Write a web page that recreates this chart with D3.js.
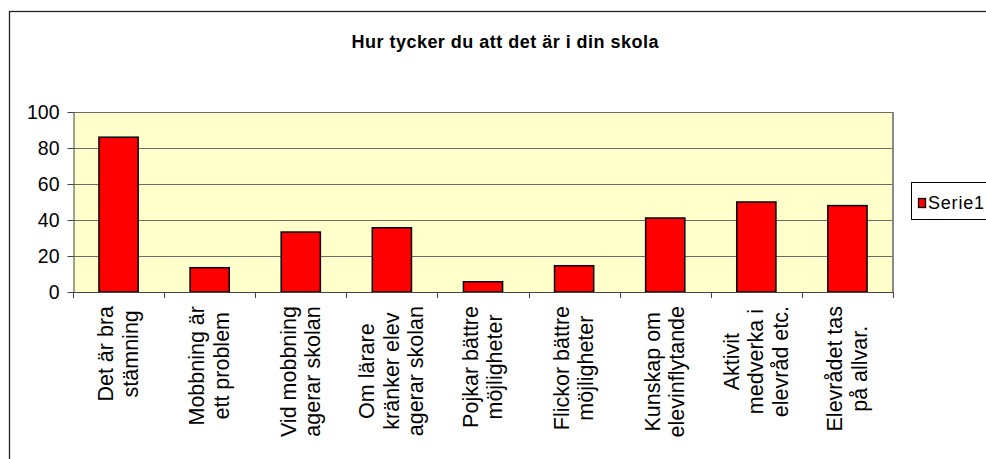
<!DOCTYPE html>
<html>
<head>
<meta charset="utf-8">
<script src="https://cdn.jsdelivr.net/npm/d3@7"></script>
<style>
  body { margin: 0; background: #fff; }
  svg { display: block; font-family: Arial, "Liberation Sans", sans-serif; }
</style>
</head>
<body>
<div id="chart"></div>
<script>
// Hur tycker du att det är i din skola
const categories = [
    ["Det är bra", "stämning"],
    ["Mobbning är", "ett problem"],
    ["Vid mobbning", "agerar skolan"],
    ["Om lärare", "kränker elev", "agerar skolan"],
    ["Pojkar bättre", "möjligheter"],
    ["Flickor bättre", "möjligheter"],
    ["Kunskap om", "elevinflytande"],
    ["Aktivit", "medverka i", "elevråd etc."],
    ["Elevrådet tas", "på allvar."]
]
const values = [86, 13.5, 33.3, 35.7, 5.7, 14.6, 41.1, 50, 48]
const yTicks = [0, 20, 40, 60, 80, 100]
const seriesName = "Serie1"
const title = "Hur tycker du att det är i din skola"

const W = 986, H = 459
const plot = {left: 73, right: 893, top: 112, bottom: 292}

const svg = d3.select("#chart").append("svg")
    .attr("width", W)
    .attr("height", H)

// outer chart border (runs off the right and bottom edges)
svg.append("rect")
    .attr("x", 9.5).attr("y", 11.5)
    .attr("width", 1000).attr("height", 500)
    .style("fill", "#fff")
    .style("stroke", "#222")
    .style("stroke-width", 1.3)

svg.append("text")
    .attr("x", 505).attr("y", 48)
    .attr("text-anchor", "middle")
    .attr("textLength", 307)
    .attr("lengthAdjust", "spacing")
    .style("font-size", "18px")
    .style("font-weight", "bold")
    .text(title)

const x = d3.scaleBand()
    .domain(d3.range(categories.length))
    .range([plot.left, plot.right])
    .padding(0)

const y = d3.scaleLinear()
    .domain([0, 100])
    .range([plot.bottom, plot.top])

// plot area
svg.append("rect")
    .attr("x", plot.left).attr("y", plot.top)
    .attr("width", plot.right - plot.left)
    .attr("height", plot.bottom - plot.top)
    .style("fill", "#ffffcc")

svg.append("g")
    .selectAll("line")
    .data(yTicks.filter(d => d > 0))
    .enter()
    .append("line")
    .attr("x1", plot.left).attr("x2", plot.right)
    .attr("y1", d => y(d) + 0.5).attr("y2", d => y(d) + 0.5)
    .style("stroke", "#6b6b6b")
    .style("stroke-width", 1)

// right border of plot area
svg.append("line")
    .attr("x1", plot.right).attr("x2", plot.right)
    .attr("y1", plot.top).attr("y2", plot.bottom)
    .style("stroke", "#8a8a8a")
    .style("stroke-width", 2)

// bars
const barW = x.bandwidth() * 0.43
svg.append("g")
    .selectAll("rect")
    .data(values)
    .enter()
    .append("rect")
    .attr("x", (d, i) => x(i) + x.bandwidth() / 2 - barW / 2)
    .attr("y", d => y(d))
    .attr("width", barW)
    .attr("height", d => y(0) - y(d))
    .style("fill", "#ff0000")
    .style("stroke", "#000")
    .style("stroke-width", 1.5)

// y axis
const yAxis = svg.append("g")
    .attr("transform", "translate(" + (plot.left + 0.5) + ",0)")
    .call(d3.axisLeft(y).tickValues(yTicks).tickSize(6).tickSizeOuter(0).tickPadding(8))
yAxis.select(".domain").style("stroke", "#444")
yAxis.selectAll(".tick line").style("stroke", "#444")
yAxis.selectAll("text")
    .style("font-size", "19.5px")
    .style("font-family", "Arial, 'Liberation Sans', sans-serif")
    .attr("fill", "#000")

// x axis: line and ticks at category boundaries
const xAxis = svg.append("g")
xAxis.append("line")
    .attr("x1", plot.left).attr("x2", plot.right)
    .attr("y1", plot.bottom + 0.5).attr("y2", plot.bottom + 0.5)
    .style("stroke", "#444")
xAxis.selectAll(".xtick")
    .data(d3.range(categories.length + 1))
    .enter()
    .append("line")
    .attr("class", "xtick")
    .attr("x1", d => Math.round(plot.left + d * x.step()) + 0.5)
    .attr("x2", d => Math.round(plot.left + d * x.step()) + 0.5)
    .attr("y1", plot.bottom)
    .attr("y2", plot.bottom + 6)
    .style("stroke", "#444")

// category labels, rotated, lines centred inside the block
const lineGap = 24.5
const labelTop = 306
categories.forEach((lines, i) => {
    const cx = x(i) + x.bandwidth() / 2
    const g = svg.append("g")
    const texts = lines.map((ln, k) => g.append("text")
        .style("font-size", "21.5px")
        .attr("text-anchor", "middle")
        .text(ln))
    const maxLen = d3.max(texts, t => t.node().getComputedTextLength())
    const n = lines.length
    texts.forEach((t, k) => {
        const bx = cx + 7 + (k - (n - 1) / 2) * lineGap
        t.attr("transform", "translate(" + bx + "," + (labelTop + maxLen / 2) + ") rotate(-90)")
    })
})

// legend
const legend = svg.append("g")
legend.append("rect")
    .attr("x", 911.5).attr("y", 182.5)
    .attr("width", 90).attr("height", 37)
    .style("fill", "#fff")
    .style("stroke", "#000")
legend.append("rect")
    .attr("x", 918.5).attr("y", 198.5)
    .attr("width", 7).attr("height", 9)
    .style("fill", "#ff0000")
    .style("stroke", "#000")
    .style("stroke-width", 1.3)
legend.append("text")
    .attr("x", 928).attr("y", 208.5)
    .attr("textLength", 56)
    .attr("lengthAdjust", "spacing")
    .style("font-size", "18px")
    .text(seriesName)
</script>
</body>
</html>
